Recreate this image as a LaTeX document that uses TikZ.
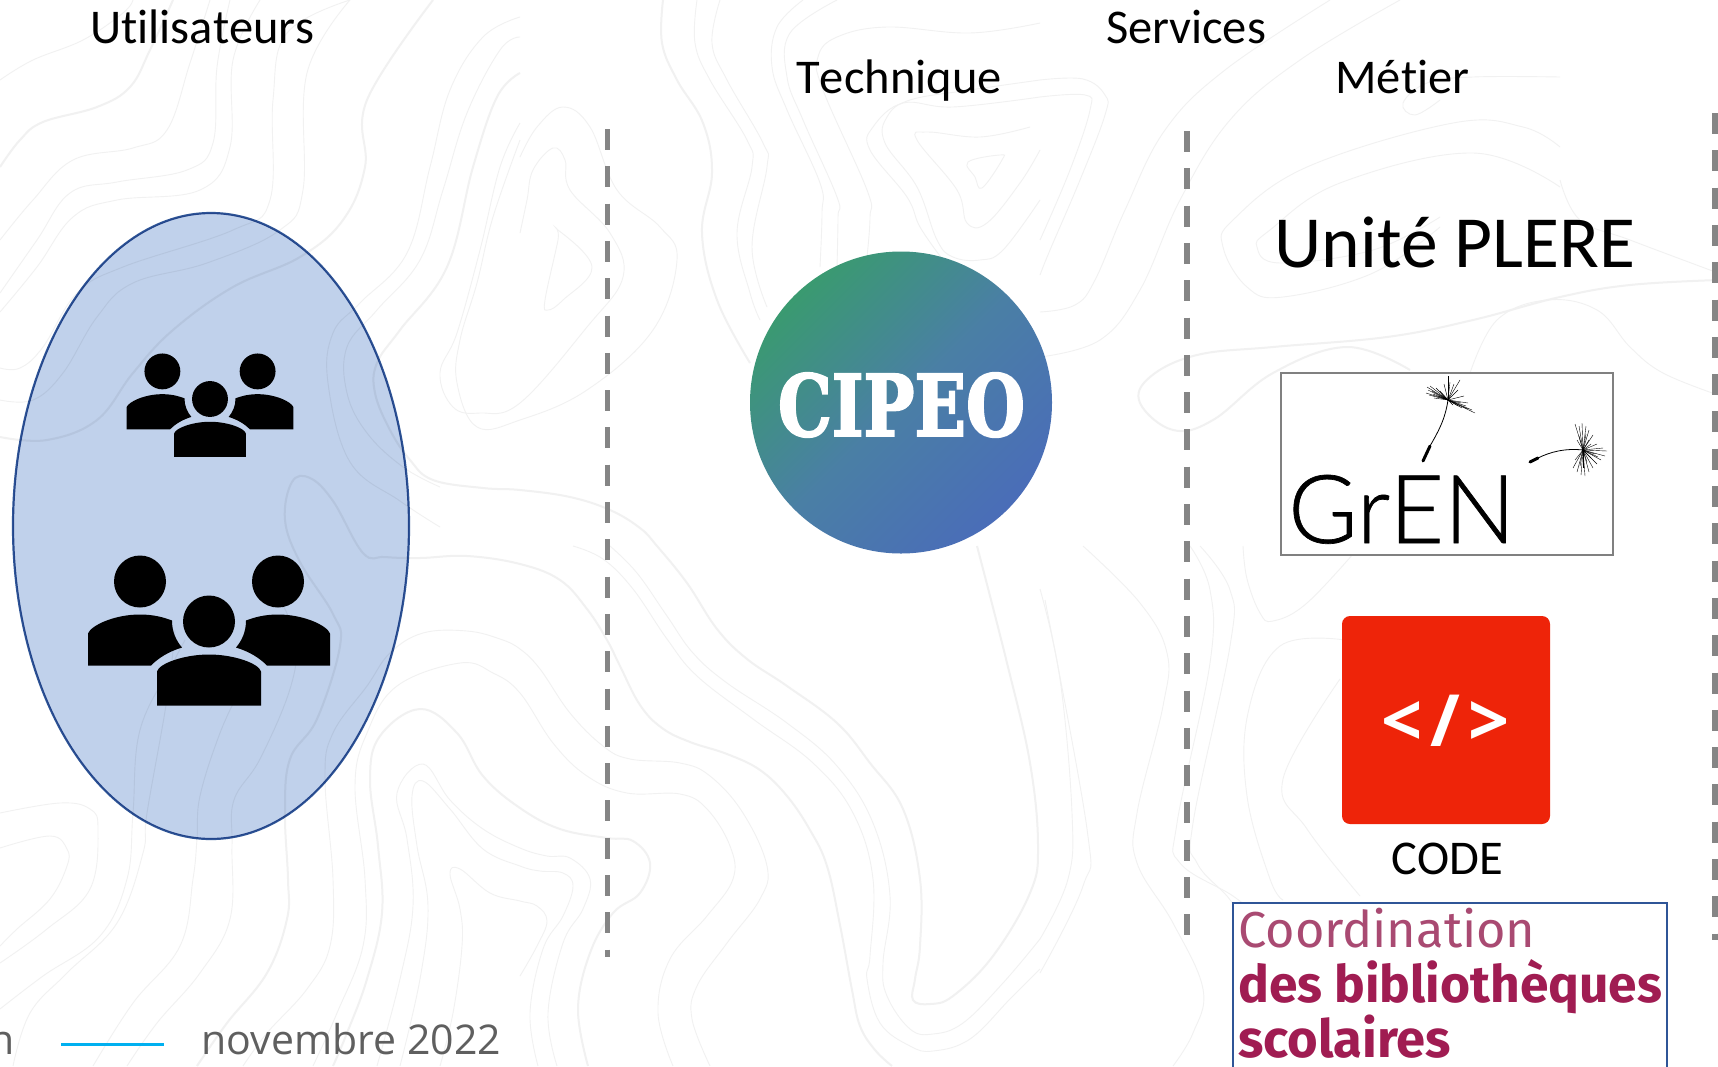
\documentclass[tikz,border=0pt]{standalone}
\usepackage{fontspec}
\usepackage{tikz}
\usetikzlibrary{positioning,calc,shapes.geometric}

\setmainfont{Carlito}[Ligatures=NoCommon,Kerning=Off]
\newfontfamily\footfont{Open Sans}
\newfontfamily\slabfont{DejaVu Serif}[BoldFeatures={FakeBold=2.5}]
\newfontfamily\grenfont{Lato Light}[FakeBold=.7]
\newfontfamily\biblifont{Fira Sans}
\newfontfamily\codefont{Open Sans}

\definecolor{contourgray}{HTML}{F1F1F1}
\definecolor{groupblue}{HTML}{C0D1EB}
\definecolor{borderblue}{HTML}{2F5597}
\definecolor{sepgray}{HTML}{858585}
\definecolor{codered}{HTML}{EE2409}
\definecolor{bibliolight}{HTML}{A94A72}
\definecolor{bibliodark}{HTML}{A01C52}
\definecolor{footgray}{HTML}{5F5F5F}
\definecolor{cipeogreen}{HTML}{3A9A70}
\definecolor{cipeomid}{HTML}{4A7FA5}
\definecolor{cipeoblue}{HTML}{4A6DB8}
\definecolor{rulecyan}{HTML}{00B0F0}

\tikzset{
  contour/.style={draw=contourgray,line width=.9pt,smooth,tension=.65},
  contourbold/.style={contour,line width=2pt},
  separator/.style={draw=sepgray,line width=5.5pt,dash pattern=on 21pt off 16.3pt},
  title/.style={anchor=base,inner sep=0pt,font=\fontsize{48.5}{50}\selectfont},
  hair/.style={draw=black,line width=.4pt},
  biblio/.style={anchor=base west,inner sep=0pt},
  usergroup/.pic={
    \fill (0,0) circle (26);
    \fill (-52,84) -- (-52,50) .. controls (-50,42) and (-25,33) .. (0,33)
      .. controls (25,33) and (50,42) .. (52,50) -- (52,84) -- cycle;
    \foreach \side in {1,-1} {
      \fill[xscale=\side] (-69,-40) circle (26);
      \fill[xscale=\side] (-121,44) -- (-121,12) .. controls (-118,4) and (-95,-7) .. (-69,-7)
        .. controls (-55,-7) and (-45,-4) .. (-37,-1) .. controls (-37,10) and (-33,19) .. (-27,26)
        .. controls (-40,30) and (-50,36) .. (-58,44) -- cycle;
    }
  }
}

\begin{document}
\begin{tikzpicture}[x=1pt,y=-1pt]

  \useasboundingbox[fill=white] (0,0) rectangle (1718,1066);

  % background
  \draw[contourbold] plot coordinates {(197,1066)(227,1023)(267,973)(287,919)(288,879)(285,813)(290,759)(317,719)(340,646)(333,614)(300,562)(285,520)(292,482)(310,478)(333,501)(363,553)(385,557)(420,558)(467,556)(520,564)(560,580)(587,609)(607,640)(620,666)(640,705)(662,728)(690,742)(727,754)(760,770)(787,796)(810,830)(827,866)(840,925)(852,990)(860,1026)(875,1050)(892,1066)};
  \draw[contourbold] plot coordinates {(520,73)(497,97)(473,167)(447,267)(400,330)(377,363)(375,393)(390,430)(410,460)(433,480)(483,488)(520,490)(570,497)(610,510)(640,528)(657,546)(687,583)(717,629)(747,659)(787,686)(837,723)(870,763)(903,809)(920,879)(920,946)(915,979)(913,1000)(930,1004)(953,996)(993,956)(1030,893)(1038,846)(1030,763)(1007,663)(977,546)};
  \draw[contour] plot coordinates {(573,546)(603,559)(633,589)(667,639)(697,676)(753,719)(813,763)(853,813)(873,879)(870,956)(867,979)(880,1023)(910,1046)(933,1051)(970,1039)(1010,999)(1040,969)};
  \draw[contour] plot coordinates {(610,546)(637,573)(667,616)(693,653)(727,683)(787,723)(837,766)(873,823)(890,896)(883,963)(887,996)(910,1029)(933,1034)(963,1023)(1003,983)(1040,939)};
  \draw[contour] plot coordinates {(243,1066)(267,1033)(307,989)(330,946)(333,879)(325,779)(333,733)(367,686)(390,653)(423,633)(467,631)(500,639)(520,649)(540,669)(570,713)(603,746)(630,759)(680,763)(710,776)(743,813)(767,866)(760,899)(727,943)(697,986)(692,1019)(710,1066)};
  \draw[contour] plot coordinates {(313,1066)(337,1013)(363,946)(365,879)(355,786)(367,733)(397,686)(460,663)(493,673)(520,693)(553,743)(587,776)(627,793)(680,794)(707,809)(730,846)(733,879)(707,916)(670,959)(658,1013)(673,1066)};
  \draw[contourbold] plot coordinates {(333,1066)(347,1033)(367,979)(382,913)(378,846)(370,779)(380,736)(420,709)(457,733)(483,776)(520,808)(560,829)(607,838)(633,841)(650,863)(640,893)(613,913)(590,953)(578,1009)(588,1066)};
  \draw[contour] plot coordinates {(377,1066)(400,979)(413,906)(407,839)(397,793)(423,764)(450,800)(483,829)(520,848)(547,856)(570,858)(590,879)(583,909)(563,943)(548,1013)(557,1066)};
  \draw[contour] plot coordinates {(400,1066)(420,979)(428,906)(417,846)(412,796)(423,781)(450,809)(483,849)(520,866)(540,871)(563,873)(573,886)(563,916)(543,949)(530,1013)(538,1066)};
  \draw[contour] plot coordinates {(520,976)(537,946)(547,921)(537,906)(520,901)(490,893)(460,869)(450,874)(460,909)(462,946)(453,1013)(440,1066)};
  \draw[contour] plot coordinates {(127,1066)(157,1023)(200,973)(230,919)(232,846)(234,800)(260,759)(290,689)(296,640)(280,600)};
  \draw[contour] plot coordinates {(93,1066)(133,1003)(180,946)(193,879)(197,839)(200,796)(220,733)(240,690)};
  \draw[contour] plot coordinates {(13,1066)(30,1013)(67,973)(117,923)(143,853)(147,813)(167,699)(175,630)};
  \draw[contour] plot coordinates {(0,1009)(43,976)(100,936)(127,879)(133,813)(140,730)(172,665)(185,640)};
  \draw[contour] plot coordinates {(0,813)(60,803)(90,809)(98,829)(90,889)(47,929)(0,963)};
  \draw[contour] plot coordinates {(0,848)(50,836)(67,849)(67,866)(50,899)(17,929)(0,946)};
  \draw[contourbold] plot coordinates {(0,167)(20,140)(43,122)(97,107)(130,87)(150,50)(173,0)};
  \draw[contour] plot coordinates {(0,80)(33,60)(83,40)(123,13)(133,0)};
  \draw[contour] plot coordinates {(0,240)(33,200)(73,160)(133,148)(167,130)(190,63)(210,0)};
  \draw[contour] plot coordinates {(0,293)(37,240)(70,193)(117,182)(187,170)(213,143)(217,67)(230,0)};
  \draw[contour] plot coordinates {(0,312)(37,267)(73,217)(117,200)(200,190)(230,147)(233,60)(260,0)};
  \draw[contour] plot coordinates {(0,368)(20,368)(43,347)(77,293)(123,267)(233,230)(270,200)(273,100)(287,33)(350,0)};
  \draw[contour] plot coordinates {(0,400)(33,400)(63,373)(97,317)(133,283)(207,263)(280,230)(303,190)(307,73)(350,0)};
  \draw[contourbold] plot coordinates {(0,437)(47,440)(97,420)(133,373)(173,330)(233,287)(300,257)(343,220)(365,167)(367,100)(433,0)};
  \draw[contour] plot coordinates {(520,17)(483,37)(450,90)(430,167)(407,253)(360,303)(333,333)(328,383)(350,462)(400,501)(440,527)};
  \draw[contour] plot coordinates {(520,37)(500,50)(467,113)(443,190)(420,260)(377,310)(347,347)(347,393)(367,433)(403,467)(440,487)};
  \draw[contour] plot coordinates {(520,123)(500,167)(480,250)(457,333)(440,373)(453,407)(480,413)(520,403)(587,327)(623,277)(610,233)(570,190)(565,160)(553,148)(533,170)(527,200)(520,233)};
  \draw[contour] plot coordinates {(520,140)(493,217)(477,283)(460,340)(457,383)(477,427)(520,420)(587,390)(653,330)(677,260)(660,227)(617,190)(590,127)(563,107)(537,127)(520,157)};
  \draw[contour] plot[smooth cycle] coordinates {(558,230)(592,267)(563,300)(548,310)(545,300)(558,240)};
  \draw[contourbold] plot coordinates {(663,0)(662,43)(677,80)(703,123)(712,173)(702,233)(717,300)(750,363)};
  \draw[contour] plot coordinates {(697,0)(695,43)(710,80)(747,140)(752,167)(737,233)(750,293)(760,320)};
  \draw[contour] plot coordinates {(720,0)(712,43)(727,80)(763,143)(767,167)(752,247)(767,307)};
  \draw[contour] plot coordinates {(803,0)(777,27)(772,67)(787,110)(820,183)(822,213)(820,267)};
  \draw[contour] plot coordinates {(837,0)(790,33)(787,77)(803,120)(837,197)(838,217)(837,267)};
  \draw[contour] plot coordinates {(1040,23)(970,33)(887,27)(837,37)(818,57)(823,90)(867,190)(870,217)(867,257)};
  \draw[contour] plot coordinates {(1040,97)(953,107)(903,103)(873,127)(870,150)(907,197)(920,227)(943,260)};
  \draw[contour] plot coordinates {(1040,80)(970,90)(910,100)(887,117)(885,143)(917,187)(937,240)(953,257)(980,260)(1003,250)(1040,200)};
  \draw[contour] plot coordinates {(1030,127)(980,137)(927,132)(917,140)(957,190)(967,223)(987,223)(1020,183)(1040,150)};
  \draw[contour] plot[smooth cycle] coordinates {(968,162)(1000,155)(1002,160)(982,188)(975,177)};
  \draw[contour] plot coordinates {(1040,80)(1083,79)(1105,95)(1105,115)(1080,180)(1050,250)(1040,275)};
  \draw[contour] plot coordinates {(1040,97)(1085,95)(1090,110)(1070,170)(1040,240)};
  \draw[contour] plot coordinates {(1040,312)(1075,305)(1095,280)(1125,210)(1165,130)(1225,70)(1330,0)};
  \draw[contour] plot coordinates {(1040,357)(1100,340)(1140,290)(1180,200)(1230,120)(1300,60)(1400,0)};
  \draw[contourbold] plot coordinates {(1718,280)(1630,285)(1560,297)(1473,320)(1387,337)(1273,347)(1197,355)(1150,377)(1140,403)(1173,430)(1213,420)(1273,373)(1347,347)(1410,370)};
  \draw[contour] plot coordinates {(1560,147)(1523,127)(1453,123)(1307,167)(1233,220)(1223,247)(1247,287)(1283,297)(1373,273)(1440,227)};
  \draw[contour] plot coordinates {(1560,187)(1473,153)(1340,183)(1270,230)(1257,247)(1280,263)(1373,250)(1440,217)};
  \draw[contour] plot coordinates {(1560,77)(1473,77)(1427,83)(1403,103)(1415,115)(1440,100)};
  \draw[contour] plot coordinates {(1560,180)(1580,220)(1630,240)(1718,273)};
  \draw[contour] plot coordinates {(1470,373)(1497,320)(1547,300)(1597,310)(1630,347)(1663,373)(1718,395)};
  \draw[contour] plot coordinates {(1083,546)(1140,603)(1167,653)(1163,706)(1137,813)(1137,863)(1173,923)(1203,989)(1193,1033)(1173,1066)};
  \draw[contour] plot coordinates {(1190,546)(1210,590)(1210,663)(1177,823)(1180,863)(1233,896)(1262,920)};
  \draw[contour] plot coordinates {(1200,546)(1230,590)(1230,646)(1193,823)(1197,863)(1227,896)(1240,915)};
  \draw[contour] plot coordinates {(1040,589)(1060,679)(1072,813)(1068,879)(1040,939)};
  \draw[contour] plot coordinates {(1045,600)(1087,829)(1083,886)(1040,973)};
  \draw[contour] plot coordinates {(1243,546)(1247,579)(1260,613)(1273,621)(1307,603)(1360,546)};
  \draw[contour] plot coordinates {(1345,640)(1280,646)(1248,713)(1247,796)(1270,879)(1283,900)};
  \draw[contour] plot coordinates {(1340,679)(1283,779)(1307,829)(1360,896)};

  % separators
  \coordinate (septopa) at (607.5,129);
  \coordinate (sepbota) at (607.5,957);
  \coordinate (septopb) at (1187,131);
  \coordinate (sepbotb) at (1187,936);
  \coordinate (septopc) at (1715,113);
  \coordinate (sepbotc) at (1715,940);
  \draw[separator] (septopa) -- (sepbota);
  \draw[separator] (septopb) -- (sepbotb);
  \draw[separator] (septopc) -- (sepbotc);

  % titles
  \node[title] (users) at (202.5,43.5) {Utilisateurs};
  \node[title] (services) at (1186,43.5) {Services};
  \node[title] (technique) at (899,93.5) {Technique};
  \node[title] (metier) at (1402.5,93.5) {Métier};
  \node[title,font=\fontsize{73.5}{76}\selectfont] (plere) at (1455,267) {Unité PLERE};

  % users
  \node[ellipse,draw=borderblue,line width=2.2pt,fill=groupblue,blend mode=multiply,
        minimum width=396pt,minimum height=626pt,inner sep=0pt] (group) at (211,526) {};
  \pic at (210,399) [scale=.69] {usergroup};
  \pic at (209,621.5) {usergroup};

  % cipeo
  \node[circle,minimum size=302pt,inner sep=0pt,top color=cipeogreen,bottom color=cipeoblue,
        middle color=cipeomid,shading angle=45] (cipeo) at (901,402.5) {};
  \node[inner sep=0pt,text=white] (cipeotext) at (901.5,405)
        {\resizebox{247pt}{63pt}{\slabfont\bfseries CIPEO}};

  % gren
  \node[draw=gray,line width=1.5pt,fill=white,minimum width=332pt,minimum height=182pt,
        inner sep=0pt] (grenbox) at (1447,464) {};
  \node[anchor=base west,inner sep=0pt] (gren) at (1288,543)
        {\resizebox{227pt}{68pt}{\grenfont GrEN}};
  \coordinate (headleft) at (1448,400);
  \coordinate (seedleft) at (1423,461);
  \coordinate (headright) at (1583,450);
  \coordinate (seedright) at (1530,462);
  \draw[line width=.8pt] (headleft) .. controls (1445,420) and (1438,432) .. (1430,446);
  \draw[line width=3pt,line cap=round] (1430,446) -- (seedleft);
  \draw[line width=.8pt] (headright) .. controls (1565,448) and (1550,452) .. (1538,458);
  \draw[line width=3pt,line cap=round] (1538,458) -- (seedright);
  \foreach \dx/\dy in {-21/-13,-20/-10,-22/-7,-18/-14,-15/-6,-12/-12,-10/-4,-8/-9,-4/-16,0/-24,2/-18,
      6/-16,12/-20,10/-10,16/-4,20/3,24/10,27/13,20/9,14/8,10/6,5/5,-5/-2,-14/-2,-16/-9,-19/-5,
      -7/-5,8/3,13/3,18/6}
    \draw[hair] (headleft) -- ++(\dx,\dy);
  \foreach \dx/\dy in {-8/-26,-4/-24,-1/-27,3/-24,6/-20,10/-15,14/-6,20/-2,24/1,22/6,18/10,
      14/14,10/18,6/22,2/26,-2/25,-6/22,-10/18,-8/10,-6/-10,-4/-14,8/-6,8/8,4/12,
      -3/16,0/18,3/-16,6/-10,12/4,15/7}
    \draw[hair] (headright) -- ++(\dx,\dy);

  % code
  \node[fill=codered,rounded corners=8pt,minimum size=208pt,inner sep=0pt] (codebox) at (1446,720) {};
  \node[inner sep=0pt,text=white] (codetag) at (1445.5,721)
        {\codefont\bfseries\fontsize{72}{72}\selectfont <\kern8pt/\kern8pt>};
  \node[title] (code) at (1447.5,874) {CODE};

  % bibliotheques
  \node[draw=borderblue,line width=2pt,fill=white,minimum width=434pt,minimum height=200pt,
        inner sep=0pt] (bibliobox) at (1450,1003) {};
  \node[biblio,text=bibliolight] (coord) at (1238,947)
        {\biblifont\fontsize{50.5}{54}\selectfont Coordination};
  \node[biblio,text=bibliodark] (biblio) at (1238,1002)
        {\biblifont\bfseries\fontsize{51.5}{54}\selectfont des bibliothèques};
  \node[biblio,text=bibliodark] (scol) at (1238,1057)
        {\biblifont\bfseries\fontsize{52.5}{54}\selectfont scolaires};

  % footer
  \coordinate (ruleleft) at (61,1044.7);
  \coordinate (ruleright) at (164,1044.7);
  \draw[draw=rulecyan,line width=2.5pt] (ruleleft) -- (ruleright);
  \node[anchor=base east,inner sep=0pt,text=footgray] (footname) at (14.5,1054)
        {\footfont\fontsize{41}{45}\selectfont n};
  \node[anchor=base west,inner sep=0pt,text=footgray] (footdate) at (201.5,1054)
        {\footfont\fontsize{41}{45}\selectfont novembre 2022};

\end{tikzpicture}
\end{document}
